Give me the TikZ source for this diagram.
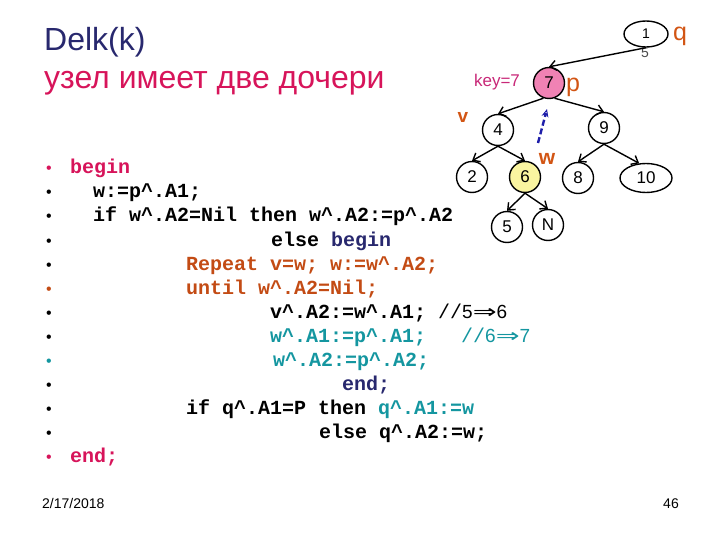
\documentclass[tikz,border=0pt]{standalone}
\usepackage{fontspec}
\setmainfont{Liberation Sans}
\newfontfamily\cmono{Liberation Mono}
\newfontfamily\dvs{DejaVu Sans}
\usetikzlibrary{arrows.meta,shapes.geometric}
\definecolor{navy}{RGB}{40,40,110}
\definecolor{crim}{RGB}{215,20,90}
\definecolor{tealc}{RGB}{20,150,160}
\definecolor{orng}{RGB}{195,75,20}
\definecolor{pinkf}{RGB}{240,130,180}
\definecolor{yelf}{RGB}{250,245,160}
\definecolor{keyc}{RGB}{200,40,120}
\definecolor{lblc}{RGB}{210,85,20}
\definecolor{dblue}{RGB}{30,30,170}
\newcommand\mycaret{\textasciicircum}
\newcommand\myarr{{\dvs\fontsize{19}{19}\selectfont\scalebox{1.5}[1]{⇒}}}
\begin{document}
\begin{tikzpicture}[x=1pt,y=-1pt,
  tn/.style={circle,draw,line width=1.4pt,minimum size=31pt,inner sep=0pt,font=\fontsize{17}{17}\selectfont},
  te/.style={ellipse,draw,line width=1.4pt,inner sep=0pt,font=\fontsize{17}{17}\selectfont},
  tedge/.style={-{Straight Barb[length=6pt,width=10pt,line width=1.4pt]},line width=1.4pt},
  code/.style={anchor=base west,inner sep=0pt,font=\cmono\bfseries\fontsize{20}{24}\selectfont},
  bul/.style={anchor=base,inner sep=0pt,font=\fontsize{16}{16}\selectfont},
  cmt/.style={anchor=base west,inner sep=0pt,font=\fontsize{19}{19}\selectfont},
  lbl/.style={inner sep=0pt,text=lblc}
]
\useasboundingbox (0,0) rectangle (720,540);
% title
\node[anchor=base west,inner sep=0pt,text=navy,font=\fontsize{32}{32}\selectfont] (t1) at (44,51) {Delk(k)};
\node[anchor=base west,inner sep=0pt,text=crim,font=\fontsize{32}{32}\selectfont] (t2) at (44,89) {узел имеет две дочери};
% tree
\node[te,minimum width=44pt,minimum height=26pt,font=\fontsize{14}{14}\selectfont] (n1) at (646,34) {1};
\node[inner sep=0pt,text=black!70,font=\fontsize{14}{14}\selectfont] (n1b) at (645,53) {5};
\node[lbl,font=\fontsize{25}{25}\selectfont] (q) at (680,36) {q};
\node[tn,fill=pinkf] (n7) at (549,83) {7};
\node[lbl,font=\fontsize{25}{25}\selectfont] (p) at (573,87) {p};
\node[inner sep=0pt,text=keyc,font=\fontsize{17}{17}\selectfont] (key) at (497,82) {key=7};
\node[tn] (n4) at (498,130) {4};
\node[tn] (n9) at (604,128) {9};
\node[lbl,font=\bfseries\fontsize{19}{19}\selectfont] (v) at (463,117) {v};
\node[tn] (n2) at (472,177) {2};
\node[tn,fill=yelf] (n6) at (525,177) {6};
\node[lbl,font=\bfseries\fontsize{21}{21}\selectfont] (w) at (547,159) {w};
\node[tn] (n8) at (578,178) {8};
\node[te,minimum width=52pt,minimum height=29pt] (n10) at (646,178) {10};
\node[tn] (n5) at (507,227) {5};
\node[tn] (nN) at (548,225) {N};
\draw[tedge] (n1.south) -- (n7.north);
\draw[tedge] (n7.250) -- (n4.north);
\draw[tedge] (n7.290) -- (n9.north);
\draw[tedge] (n4.south) -- (n2.north);
\draw[tedge] (n4.south) -- (n6.north);
\draw[tedge] (n9.south) -- (n8.north);
\draw[tedge] (n9.south) -- (n10.115);
\draw[tedge] (n6.south) -- (n5.north);
\draw[tedge] (n6.south) -- (nN.north);
\coordinate (da1) at (538,143);
\coordinate (da2) at (547,109);
\draw[dblue,line width=2.4pt,dash pattern=on 6pt off 3pt,-{Stealth[open,length=8pt,width=7pt,line width=1pt]}] (da1) -- (da2);
% bullets
\foreach \yy/\cc in {174/crim,198/black,222/black,246/black,270/black,294/orng,318/black,342/black,366/tealc,390/black,414/black,438/black,462/crim}
  \node[bul,text=\cc] at (49,\yy) {•};
% code
\node[code,text=crim] (c1) at (70,174) {begin};
\node[code] (c2) at (93,198) {w:=p\mycaret.A1;};
\node[code] (c3) at (93,222) {if w\mycaret.A2=Nil then w\mycaret.A2:=p\mycaret.A2};
\node[code] (c4) at (271,246) {else \textcolor{navy}{begin}};
\node[code,text=orng] (c5) at (186,270) {Repeat v=w; w:=w\mycaret.A2;};
\node[code,text=orng] (c6) at (186,294) {until w\mycaret.A2=Nil;};
\node[code] (c7) at (270,318) {v\mycaret.A2:=w\mycaret.A1;};
\node[cmt] (m7) at (438,318) {{\cmono\fontsize{20}{20}\selectfont//}5\myarr6};
\node[code,text=tealc] (c8) at (270,342) {w\mycaret.A1:=p\mycaret.A1;};
\node[cmt,text=tealc] (m8) at (461,342) {{\cmono\fontsize{20}{20}\selectfont//}6\myarr7};
\node[code,text=tealc] (c9) at (273,366) {w\mycaret.A2:=p\mycaret.A2;};
\node[code,text=navy] (c10) at (342,390) {end;};
\node[code] (c11) at (186,414) {if q\mycaret.A1=P then \textcolor{tealc}{q\mycaret.A1:=w}};
\node[code] (c12) at (319,438) {else q\mycaret.A2:=w;};
\node[code,text=crim] (c13) at (70,462) {end;};
% footer
\node[anchor=base west,inner sep=0pt,font=\fontsize{14}{14}\selectfont] (date) at (42,508) {2/17/2018};
\node[anchor=base east,inner sep=0pt,font=\fontsize{14}{14}\selectfont] (pg) at (679,508) {46};
\end{tikzpicture}
\end{document}
